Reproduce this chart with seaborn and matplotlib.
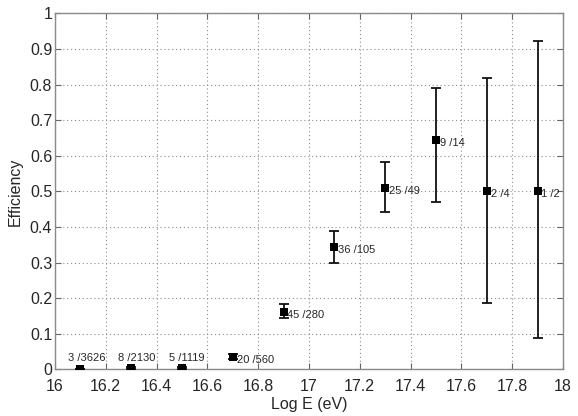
import matplotlib
matplotlib.use("Agg")
import matplotlib.pyplot as plt
import seaborn as sns
import pandas as pd

# Energy bins (log10 of E in eV), passing / total event counts
log_e = [16.1, 16.3, 16.5, 16.7, 16.9, 17.1, 17.3, 17.5, 17.7, 17.9]
passed = [3, 8, 5, 20, 45, 36, 25, 9, 2, 1]
total = [3626, 2130, 1119, 560, 280, 105, 49, 14, 4, 2]
# confidence interval bounds on the efficiency
ci_low = [0.0003, 0.0020, 0.0020, 0.0290, 0.143, 0.299, 0.441, 0.469, 0.187, 0.089]
ci_high = [0.0018, 0.0065, 0.0080, 0.0440, 0.185, 0.390, 0.583, 0.791, 0.818, 0.922]

eff = [k / n for k, n in zip(passed, total)]
df = pd.DataFrame({"log_e": log_e, "eff": eff, "lo": ci_low, "hi": ci_high,
                   "k": passed, "n": total})

sns.set_style("white")
plt.rcParams["font.family"] = ["Liberation Sans", "DejaVu Sans"]

fig = plt.figure(figsize=(5.78, 4.16), dpi=100)
ax = fig.add_axes([0.095, 0.112, 0.879, 0.856])

yerr = [df["eff"] - df["lo"], df["hi"] - df["eff"]]
ax.errorbar(df["log_e"], df["eff"], yerr=yerr, fmt="none", ecolor="#111111",
            elinewidth=1.3, capsize=3.4, capthick=1.3, zorder=3)
sns.scatterplot(data=df, x="log_e", y="eff", marker="s", s=40, color="black",
                edgecolor="black", linewidth=0, ax=ax, zorder=4)

for _, r in df.iterrows():
    label = f"{int(r['k'])} /{int(r['n'])}"
    if r["eff"] < 0.01:
        ax.text(r["log_e"] - 0.05, 0.017, label, fontsize=8, ha="left", va="bottom")
    else:
        ax.text(r["log_e"] + 0.015, r["eff"] - 0.008, label, fontsize=8,
                ha="left", va="center")

ax.set_xlim(16, 18)
ax.set_ylim(0, 1)
ax.set_xticks([16 + 0.2 * i for i in range(11)])
ax.set_xticklabels(["16", "16.2", "16.4", "16.6", "16.8", "17", "17.2", "17.4",
                    "17.6", "17.8", "18"])
ax.set_yticks([0.1 * i for i in range(11)])
ax.set_yticklabels(["0", "0.1", "0.2", "0.3", "0.4", "0.5", "0.6", "0.7", "0.8",
                    "0.9", "1"])
ax.grid(True, linestyle=(0, (1, 2.5)), color="#8c8c8c", linewidth=0.8)
ax.tick_params(axis="both", direction="in", length=4, width=0.8, color="#666666",
               labelsize=11.5, top=True, right=True, bottom=True, left=True)
ax.tick_params(axis="y", pad=2)
ax.tick_params(axis="x", pad=7)
for s in ax.spines.values():
    s.set_color("#8a8a8a")
    s.set_linewidth(1.0)

ax.set_xlabel("Log E (eV)", fontsize=11.5, labelpad=2)
ax.set_ylabel("Efficiency", fontsize=11.5, labelpad=5)

fig.savefig("out.png", dpi=100)
